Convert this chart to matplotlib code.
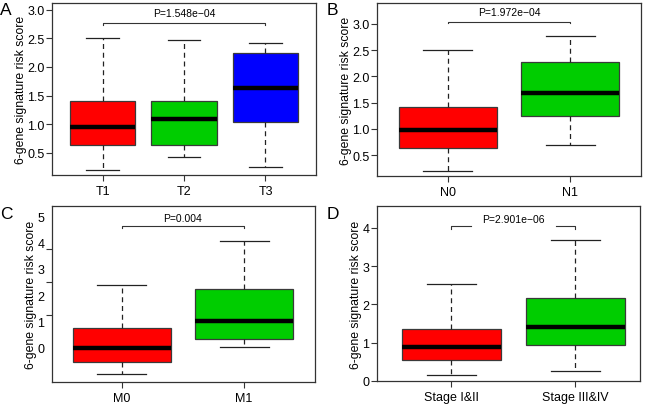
import numpy as np
import matplotlib
matplotlib.use("Agg")
import matplotlib.pyplot as plt

plt.rcParams['font.family'] = ['Liberation Sans', 'DejaVu Sans']

# panel A: T stage
t_groups = ['T1', 'T2', 'T3']
t_whislo = [0.20, 0.43, 0.255]
t_q1 = [0.635, 0.63, 1.04]
t_med = [0.955, 1.095, 1.625]
t_q3 = [1.40, 1.40, 2.24]
t_whishi = [2.50, 2.48, 2.42]
t_colors = ['#ff0000', '#00cd00', '#0000ff']
t_p = 'P=1.548e\u221204'

# panel B: N stage
n_groups = ['N0', 'N1']
n_whislo = [0.195, 0.70]
n_q1 = [0.63, 1.24]
n_med = [0.977, 1.69]
n_q3 = [1.416, 2.28]
n_whishi = [2.50, 2.765]
n_p = 'P=1.972e\u221204'

# panel C: M stage
m_groups = ['M0', 'M1']
m_whislo = [-1.01, 0.03]
m_q1 = [-0.54, 0.32]
m_med = [0.0, 1.0]
m_q3 = [0.77, 2.22]
m_whishi = [2.40, 4.06]
m_p = 'P=0.004'

# panel D: clinical stage
s_groups = ['Stage I&II', 'Stage III&IV']
s_whislo = [0.165, 0.25]
s_q1 = [0.56, 0.93]
s_med = [0.90, 1.40]
s_q3 = [1.37, 2.18]
s_whishi = [2.53, 3.69]
s_p = 'P=2.901e\u221206'

two_colors = ['#ff0000', '#00cd00']
ylab = '6-gene signature risk score'
frame_col = '#333333'

fig = plt.figure(figsize=(6.49, 4.06), dpi=100)
W, H = 649, 406


def make_ax(x0, y0, x1, y1):
    return fig.add_axes([x0 / W, 1 - y1 / H, (x1 - x0) / W, (y1 - y0) / H])


def draw_box(ax, groups, lo, q1, med, q3, hi, colors):
    stats = []
    for i in range(len(groups)):
        stats.append(dict(whislo=lo[i], q1=q1[i], med=med[i], q3=q3[i],
                          whishi=hi[i], label=groups[i]))
    pos = np.arange(1, len(groups) + 1)
    bp = ax.bxp(stats, positions=pos, widths=0.8, capwidths=0.4,
                patch_artist=True, showfliers=False,
                boxprops=dict(edgecolor='#3a3a3a', linewidth=0.9),
                medianprops=dict(color='black', linewidth=3.2, solid_capstyle='butt'),
                whiskerprops=dict(color='#222222', linewidth=0.9, linestyle=(0, (4, 3))),
                capprops=dict(color='#222222', linewidth=0.9))
    for patch, c in zip(bp['boxes'], colors):
        patch.set_facecolor(c)
    ax.set_xticks(pos)
    ax.set_xticklabels(groups, fontsize=9)
    ax.set_ylabel(ylab, fontsize=8.8, labelpad=0)
    ax.tick_params(axis='both', length=4, width=0.8, color=frame_col, labelsize=9)
    ax.tick_params(axis='x', pad=3)
    ax.tick_params(axis='y', pad=1.5)
    for s in ax.spines.values():
        s.set_color(frame_col)
        s.set_linewidth(0.9)


def bracket(ax, x0, x1, y, drop, text, ty):
    ax.plot([x0, x0, x1, x1], [y - drop, y, y, y - drop], color='#333333', lw=0.8)
    ax.text((x0 + x1) / 2, ty, text, ha='center', va='center', fontsize=7.5)


# A
axA = make_ax(52, 4, 316, 176)
draw_box(axA, t_groups, t_whislo, t_q1, t_med, t_q3, t_whishi, t_colors)
axA.set_xlim(0.38, 3.62)
axA.set_ylim(0.11, 3.12)
axA.set_yticks([0.5, 1.0, 1.5, 2.0, 2.5, 3.0])
axA.set_yticklabels(['0.5', '1.0', '1.5', '2.0', '2.5', '3.0'])
bracket(axA, 1, 3, 2.77, 0.035, t_p, 2.95)

# B
axB = make_ax(377, 4, 641, 177)
draw_box(axB, n_groups, n_whislo, n_q1, n_med, n_q3, n_whishi, two_colors)
axB.set_xlim(0.42, 2.58)
axB.set_ylim(0.10, 3.40)
axB.set_yticks([0.5, 1.0, 1.5, 2.0, 2.5, 3.0])
axB.set_yticklabels(['0.5', '1.0', '1.5', '2.0', '2.5', '3.0'])
bracket(axB, 1, 2, 3.04, 0.03, n_p, 3.22)

# C
axC = make_ax(52, 207, 315, 383)
draw_box(axC, m_groups, m_whislo, m_q1, m_med, m_q3, m_whishi, two_colors)
axC.set_xlim(0.43, 2.58)
axC.set_ylim(-1.30, 5.39)
axC.set_yticks([0, 1, 2, 3, 4, 5])
axC.set_yticklabels(['0', '1', '2', '3', '4', '5'])
axC.tick_params(axis='y', which='major', length=0, pad=5.5)
axC.set_yticks(np.linspace(0, 5, 5), minor=True)
axC.tick_params(axis='y', which='minor', length=4, width=0.8, color=frame_col)
axC.tick_params(axis='x', which='minor', length=0)
bracket(axC, 1, 2, 4.63, 0.08, m_p, 4.92)

# D
axD = make_ax(377, 207, 640, 382)
draw_box(axD, s_groups, s_whislo, s_q1, s_med, s_q3, s_whishi, two_colors)
axD.set_xlim(0.40, 2.52)
axD.set_ylim(0, 4.57)
axD.set_yticks([0, 1, 2, 3, 4])
axD.plot([1, 1, 1.16], [3.98, 4.06, 4.06], color='#333333', lw=0.8)
axD.plot([1.84, 2, 2], [4.06, 4.06, 3.98], color='#333333', lw=0.8)
axD.text(1.5, 4.24, s_p, ha='center', va='center', fontsize=7.5)

# panel letters
for lab, x, y in [('A', 0, 3), ('B', 327, 3), ('C', 0, 207), ('D', 327, 207)]:
    fig.text(x / W, 1 - y / H, lab, fontsize=12.5, ha='left', va='top')

fig.savefig('out.png', dpi=100)
